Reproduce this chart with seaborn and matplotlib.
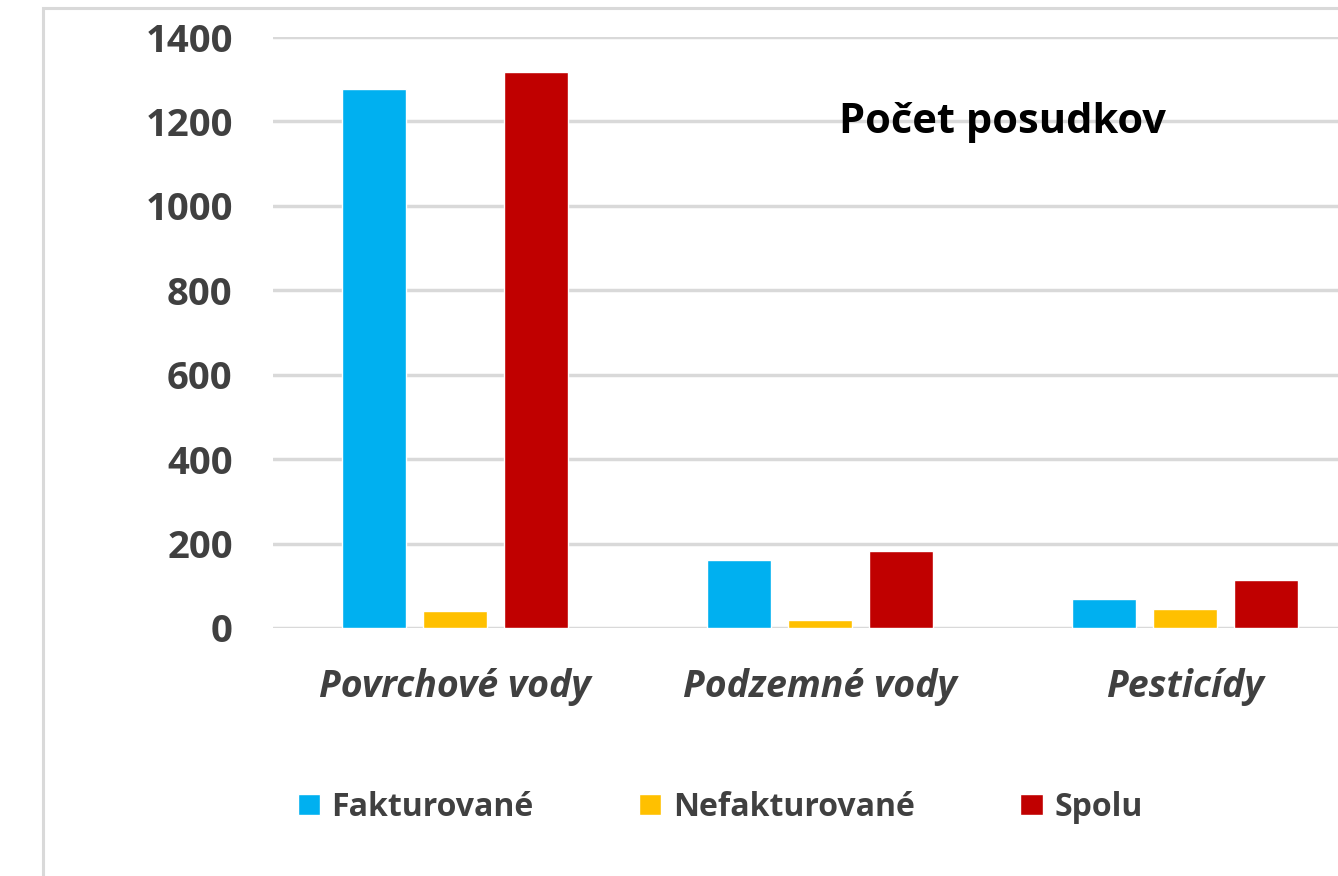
import pandas as pd
import seaborn as sns
import matplotlib.pyplot as plt
from matplotlib.patches import Rectangle

categories = ["Povrchové vody", "Podzemné vody", "Pesticídy"]
series = ["Fakturované", "Nefakturované", "Spolu"]
fakturovane = [1276, 160, 68]
nefakturovane = [40, 19, 44]
spolu = [1317, 182, 114]
colors = ["#00B0F0", "#FFC000", "#C00000"]
yticks = [0, 200, 400, 600, 800, 1000, 1200, 1400]

df = pd.DataFrame({
    "kategoria": categories * 3,
    "typ": [s for s in series for _ in categories],
    "pocet": fakturovane + nefakturovane + spolu,
})

sns.set_style("white")
plt.rcParams["font.family"] = ["Open Sans", "DejaVu Sans"]

fig = plt.figure(figsize=(13.38, 8.76), dpi=100)
ax = fig.add_axes([273 / 1338, 248 / 876, 1065 / 1338, 591 / 876])

sns.barplot(data=df, x="kategoria", y="pocet", hue="typ", palette=colors,
            width=0.667, gap=0.21, ax=ax, legend=True, saturation=1)

ax.set_xlim(-0.5, 2.42)
ax.set_ylim(0, 1400)
ax.set_yticks(yticks)
ax.set_yticklabels([str(v) for v in yticks], fontsize=27.5, fontweight="bold", color="#404040")
ax.set_xticklabels(categories, fontsize=27, fontweight="bold", style="italic", color="#404040")
ax.tick_params(axis="y", length=0, pad=29)
ax.tick_params(axis="x", length=0, pad=29)
ax.set_xlabel("")
ax.set_ylabel("")
ax.yaxis.grid(True, color="#d9d9d9", linewidth=2.5)
ax.set_axisbelow(True)
for s in ax.spines.values():
    s.set_visible(False)

# legend at the bottom
handles, labels = ax.get_legend_handles_labels()
ax.get_legend().remove()
leg = fig.legend(handles, labels, loc="center", bbox_to_anchor=(720 / 1338, 69 / 876),
                 ncol=3, frameon=False, handlelength=0.7, handleheight=0.62,
                 handletextpad=0.36, columnspacing=3.3,
                 prop={"size": 23, "weight": "bold"})
for t in leg.get_texts():
    t.set_color("#404040")

fig.text(1002 / 1338, 1 - 133 / 876, "Počet posudkov", ha="center", va="baseline",
         fontsize=30, fontweight="bold", color="black")

# chart frame (clipped on the right and bottom)
fig.patches.append(Rectangle((43 / 1338, -0.1), 1.2, 0.1 + (1 - 8 / 876), fill=False,
                             edgecolor="#d9d9d9", linewidth=2.2, transform=fig.transFigure))

fig.savefig("out.png", dpi=100)
